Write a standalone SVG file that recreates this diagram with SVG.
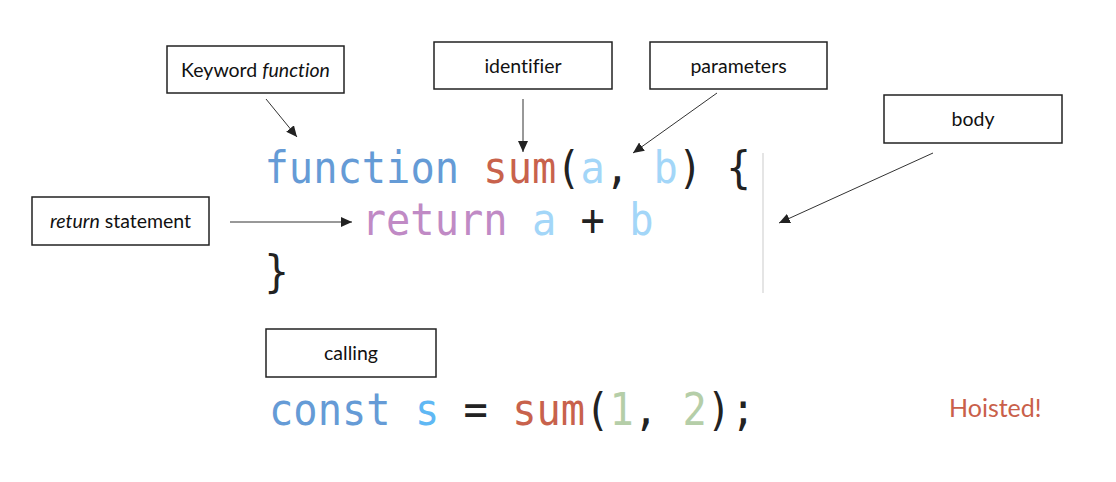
<svg xmlns="http://www.w3.org/2000/svg" width="1116" height="482" viewBox="0 0 1116 482">
<style>
.box{fill:#fff;stroke:#222;stroke-width:1.5}
.lbl{font-family:Lato,"Liberation Sans",sans-serif;font-size:19.5px;fill:#111;text-anchor:middle;font-variant-ligatures:none}
.it{font-style:italic}
.code{font-family:"DejaVu Sans Mono","Liberation Mono",monospace;font-size:40.4px;fill:#222}
.kw{fill:#659BD6}.fn{fill:#C8624C}.pa{fill:#A3D6F8}.ret{fill:#C08AC5}.cv{fill:#5FB8F4}.num{fill:#B5CEA8}
.conn{stroke:#333;stroke-width:1;fill:none;marker-end:url(#ah)}
</style>
<defs>
<marker id="ah" markerUnits="userSpaceOnUse" markerWidth="12" markerHeight="10" refX="11" refY="5" orient="auto">
<path d="M0,0 L11,5 L0,10 Z" fill="#222"/>
</marker>
</defs>
<rect width="1116" height="482" fill="#fff"/>

<g id="connectors">
<line class="conn" x1="266" y1="99" x2="297" y2="137"/>
<line class="conn" x1="523" y1="99" x2="523" y2="152"/>
<line class="conn" x1="717" y1="93" x2="633" y2="153"/>
<line class="conn" x1="933" y1="153" x2="779" y2="223"/>
<line class="conn" x1="230" y1="222" x2="352" y2="222"/>
</g>

<g id="keyword"><rect class="box" x="167" y="46" width="177" height="47"/><text class="lbl" x="255.5" y="76.5">Keyword <tspan class="it">function</tspan></text></g>
<g id="identifier"><rect class="box" x="434" y="42" width="178" height="47"/><text class="lbl" x="523" y="72.5">identifier</text></g>
<g id="parameters"><rect class="box" x="650" y="42" width="177" height="47"/><text class="lbl" x="738.5" y="72.5">parameters</text></g>
<g id="body"><rect class="box" x="884" y="95" width="178" height="48"/><text class="lbl" x="973" y="126">body</text></g>
<g id="return-statement"><rect class="box" x="32" y="197" width="177" height="48"/><text class="lbl" x="120.5" y="228"><tspan class="it">return</tspan> statement</text></g>
<g id="calling"><rect class="box" x="266" y="329" width="170" height="48"/><text class="lbl" x="351" y="360">calling</text></g>

<g id="code">
<line x1="763" y1="153" x2="763" y2="293" stroke="#dcdcdc" stroke-width="1.5"/>
<g transform="translate(264.5,183) scale(1,1.12)"><text class="code" x="0" y="0" xml:space="preserve"><tspan class="kw">function</tspan> <tspan class="fn">sum</tspan>(<tspan class="pa">a</tspan>, <tspan class="pa">b</tspan>) {</text></g>
<g transform="translate(361.7,235) scale(1,1.12)"><text class="code" x="0" y="0" xml:space="preserve"><tspan class="ret">return</tspan> <tspan class="pa">a</tspan> + <tspan class="pa">b</tspan></text></g>
<g transform="translate(264.5,287) scale(1,1.12)"><text class="code" x="0" y="0">}</text></g>
<g transform="translate(269,425) scale(1,1.12)"><text class="code" x="0" y="0" xml:space="preserve"><tspan class="kw">const</tspan> <tspan class="cv">s</tspan> = <tspan class="fn">sum</tspan>(<tspan class="num">1</tspan>, <tspan class="num">2</tspan>);</text></g>
</g>

<g id="hoisted"><text x="949" y="417" font-family="Lato,'Liberation Sans',sans-serif" font-size="25" fill="#C9604A">Hoisted!</text></g>
</svg>
